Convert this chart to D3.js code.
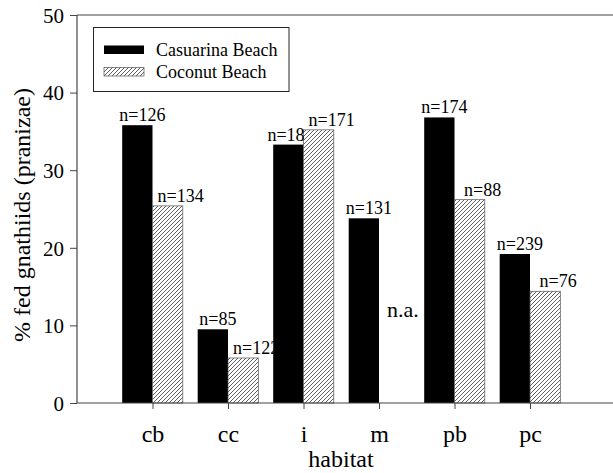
<!DOCTYPE html>
<html>
<head>
<meta charset="utf-8">
<script src="https://cdn.jsdelivr.net/npm/d3@7"></script>
<style>
  body { margin: 0; background: #fff; }
  svg { display: block; }
</style>
</head>
<body>
<svg id="chart" width="613" height="473" font-family="Liberation Serif"></svg>
<script>
// data
var habitats = ["cb", "cc", "i", "m", "pb", "pc"];
var casuarina = [35.8, 9.5, 33.3, 23.8, 36.8, 19.2];
var coconut = [25.4, 5.8, 35.2, null, 26.2, 14.4];
var casuarinaN = ["n=126", "n=85", "n=18", "n=131", "n=174", "n=239"];
var coconutN = ["n=134", "n=122", "n=171", "", "n=88", "n=76"];
var yTicks = [0, 10, 20, 30, 40, 50];
var seriesNames = ["Casuarina Beach", "Coconut Beach"];

var svg = d3.select('#chart');
var width = 613, height = 473;
var margin = { left: 77, right: 7.5, top: 15, bottom: 70 };
var plotBottom = height - margin.bottom; // 403
var barW = 30.3;

var xScale = d3.scalePoint()
    .domain(habitats)
    .range([margin.left, width - margin.right])
    .padding(1);

var yScale = d3.scaleLinear()
    .domain([0, 50])
    .range([plotBottom, margin.top]);

function label(sel, size) {
    return sel.attr('font-family', 'Liberation Serif')
        .style('font-family', 'Liberation Serif')
        .style('font-size', size + 'px')
        .style('fill', '#000');
}

// hatch pattern for Coconut Beach
var pat = svg.append('defs').append('pattern')
    .attr('id', 'hatch')
    .attr('patternUnits', 'userSpaceOnUse')
    .attr('width', 4)
    .attr('height', 4);
pat.append('rect').attr('width', 4).attr('height', 4).attr('fill', '#fff');
pat.append('path')
    .attr('d', 'M-1,1 l2,-2 M0,4 l4,-4 M3,5 l2,-2')
    .attr('stroke', '#333')
    .attr('stroke-width', 0.8);

// bars
casuarina.forEach(function(d, i) {
    svg.append('rect')
        .attr('x', xScale(habitats[i]) - barW)
        .attr('y', yScale(d))
        .attr('width', barW)
        .attr('height', plotBottom - yScale(d))
        .attr('fill', '#000');
});
coconut.forEach(function(d, i) {
    if (d == null) return;
    svg.append('rect')
        .attr('x', xScale(habitats[i]))
        .attr('y', yScale(d))
        .attr('width', barW)
        .attr('height', plotBottom - yScale(d))
        .attr('fill', 'url(#hatch)')
        .attr('stroke', '#555')
        .attr('stroke-width', 0.7);
});

// n labels: hatched first, then black ones pushed left if they would collide
var hatchLeft = [];
coconut.forEach(function(d, i) {
    if (d == null) {
        label(svg.append('text'), 22)
            .attr('x', xScale(habitats[i]) + 8)
            .attr('y', yScale(11.1))
            .text('n.a.');
        hatchLeft.push(null);
        return;
    }
    var t = label(svg.append('text'), 18)
        .attr('x', xScale(habitats[i]) + barW / 2 + 13)
        .attr('y', yScale(d) - 4)
        .attr('text-anchor', 'middle')
        .text(coconutN[i]);
    hatchLeft.push({ x: t.node().getBBox().x, y: yScale(d) - 4 });
});
casuarina.forEach(function(d, i) {
    var t = label(svg.append('text'), 18)
        .attr('x', xScale(habitats[i]) - barW / 2 + 5)
        .attr('y', yScale(d) - 4)
        .attr('text-anchor', 'middle')
        .text(casuarinaN[i]);
    var h = hatchLeft[i];
    if (h && Math.abs(h.y - (yScale(d) - 4)) < 18) {
        var b = t.node().getBBox();
        var over = b.x + b.width - (h.x - 4);
        if (over > 0) t.attr('x', +t.attr('x') - over);
    }
});

// axes
var axisColor = '#444';
var yAxis = svg.append('g')
    .attr('transform', `translate(${margin.left},0)`)
    .call(d3.axisLeft(yScale).tickValues(yTicks).tickSize(7).tickPadding(6));
yAxis.attr('font-family', 'Liberation Serif');
yAxis.select('.domain').remove();
yAxis.selectAll('.tick line').attr('stroke', axisColor);
label(yAxis.selectAll('.tick text'), 21).attr('dy', '0.35em');

svg.append('line')
    .attr('x1', margin.left).attr('x2', margin.left)
    .attr('y1', margin.top).attr('y2', plotBottom)
    .attr('stroke', axisColor).attr('stroke-width', 1.2);
svg.append('line')
    .attr('x1', margin.left).attr('x2', width)
    .attr('y1', margin.top).attr('y2', margin.top)
    .attr('stroke', axisColor).attr('stroke-width', 1.2);

var xAxis = svg.append('g')
    .attr('transform', `translate(0,${plotBottom})`)
    .call(d3.axisBottom(xScale).tickSize(6).tickPadding(16));
xAxis.attr('font-family', 'Liberation Serif');
xAxis.select('.domain').remove();
xAxis.selectAll('.tick line').attr('stroke', axisColor);
label(xAxis.selectAll('.tick text'), 24);
svg.append('line')
    .attr('x1', margin.left).attr('x2', width)
    .attr('y1', plotBottom).attr('y2', plotBottom)
    .attr('stroke', axisColor).attr('stroke-width', 1.2);

// axis titles
label(svg.append('text'), 24)
    .attr('x', 341)
    .attr('y', 467)
    .attr('text-anchor', 'middle')
    .text('habitat');
label(svg.append('text'), 24)
    .attr('transform', `translate(30,${(margin.top + plotBottom) / 2 + 6}) rotate(-90)`)
    .attr('text-anchor', 'middle')
    .text('% fed gnathiids (pranizae)');

// legend
var lg = svg.append('g');
lg.append('rect')
    .attr('x', 93.5).attr('y', 27.5)
    .attr('width', 195.5).attr('height', 64)
    .attr('fill', '#fff')
    .attr('stroke', '#222')
    .attr('stroke-width', 1);
seriesNames.forEach(function(name, i) {
    lg.append('rect')
        .attr('x', 104).attr('y', 45.5 + i * 22)
        .attr('width', 40).attr('height', 8.5)
        .attr('fill', i === 0 ? '#000' : 'url(#hatch)')
        .attr('stroke', i === 0 ? 'none' : '#555')
        .attr('stroke-width', 0.7);
    label(lg.append('text'), 18)
        .attr('x', 156).attr('y', 55.5 + i * 22)
        .text(name);
});
</script>
</body>
</html>
